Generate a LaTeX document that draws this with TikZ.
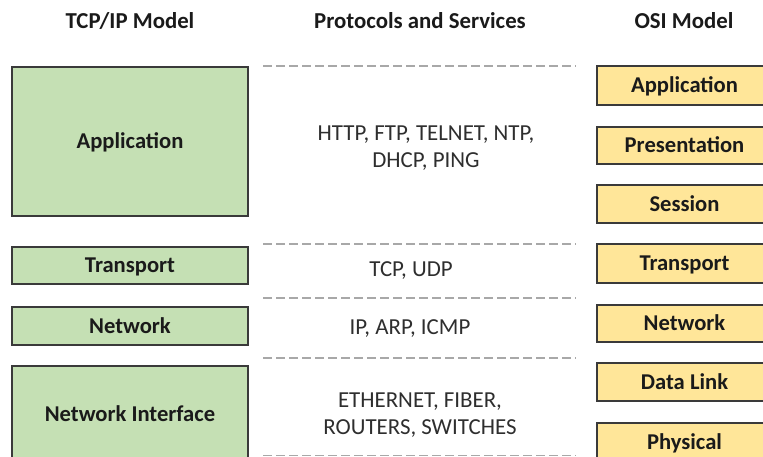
\documentclass[tikz,border=0pt]{standalone}
\usepackage{fontspec}
\setmainfont{Carlito}
\definecolor{tcpfill}{HTML}{C5E0B4}
\definecolor{osifill}{HTML}{FFE699}
\definecolor{boxline}{HTML}{3A3A3A}
\definecolor{labeltext}{HTML}{1A1A1A}
\definecolor{prototext}{HTML}{2E2E2E}
\definecolor{sepline}{HTML}{A8A8A8}
\begin{document}
\begin{tikzpicture}[x=1pt,y=-1pt,
  layer/.style={draw=boxline, line width=1.3pt, inner sep=0pt,
    text height=14.5pt, text depth=0pt, text=labeltext,
    font=\fontsize{22.6}{26}\selectfont\bfseries},
  tcpbox/.style={layer, fill=tcpfill, minimum width=236pt},
  osibox/.style={layer, fill=osifill, minimum width=175pt},
  heading/.style={inner sep=0pt, text height=14.5pt, text depth=0pt, text=labeltext,
    font=\fontsize{22.8}{26}\selectfont\bfseries},
  proto/.style={inner sep=0pt, align=center, text=prototext,
    font=\fontsize{22.9}{27}\selectfont},
  sep/.style={draw=sepline, line width=1.4pt, dash pattern=on 9pt off 4pt}
]
\useasboundingbox (0,0) rectangle (763,456);

% column headings
\node[heading] (htcp)   at (130,21) {TCP/IP Model};
\node[heading] (hproto) at (420,21) {Protocols and Services};
\node[heading] (hosi)   at (684,21) {OSI Model};

% TCP/IP layers
\node[tcpbox, minimum height=149pt] (tapp) at (130,141.5) {Application};
\node[tcpbox, minimum height=37pt]  (ttra) at (130,265.5) {Transport};
\node[tcpbox, minimum height=38pt]  (tnet) at (130,326)   {Network};
\node[tcpbox, minimum height=96pt]  (tni)  at (130,414)   {Network Interface};

% OSI layers
\node[osibox, minimum height=39pt] (oapp) at (684.5,85.5)  {Application};
\node[osibox, minimum height=37pt] (opre) at (684.5,145.5) {Presentation};
\node[osibox, minimum height=38pt] (oses) at (684.5,204)   {Session};
\node[osibox, minimum height=39pt] (otra) at (684.5,263.5) {Transport};
\node[osibox, minimum height=37pt] (onet) at (684.5,323.5) {Network};
\node[osibox, minimum height=38pt] (odl)  at (684.5,382)   {Data Link};
\node[osibox, minimum height=39pt] (ophy) at (684.5,442.5) {Physical};

% separators between protocol groups
\foreach \yy in {66,244,298,358,455.5}
  \draw[sep] (263,\yy) -- (576,\yy);

% protocols and services
\node[proto] (papp) at (426,148) {HTTP, FTP, TELNET, NTP,\\DHCP, PING};
\node[proto] (ptra) at (411,271) {TCP, UDP};
\node[proto] (pnet) at (410,329) {IP, ARP, ICMP};
\node[proto] (pni)  at (420,415) {ETHERNET, FIBER,\\ROUTERS, SWITCHES};
\end{tikzpicture}
\end{document}
